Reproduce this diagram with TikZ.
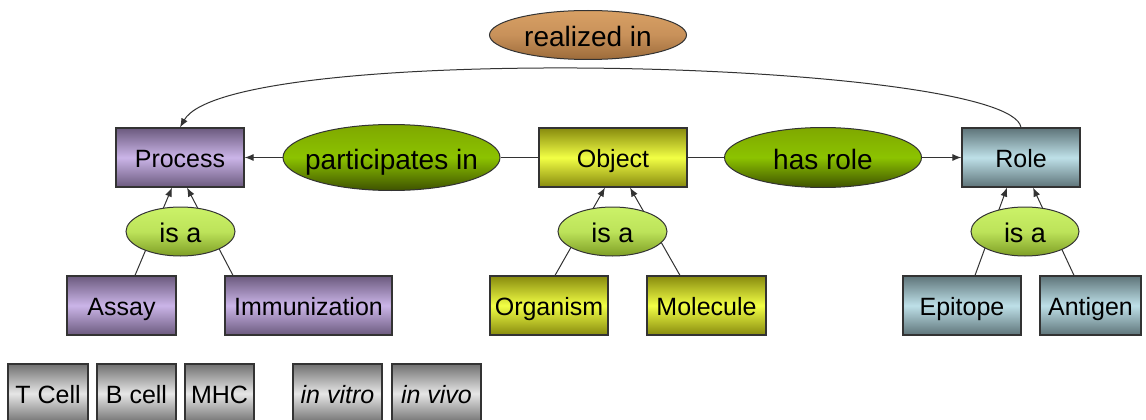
\documentclass[tikz,border=0pt]{standalone}
\usepackage{fontspec}
\setmainfont{Liberation Sans}
\usetikzlibrary{shapes.geometric,arrows.meta,backgrounds}

\definecolor{procdark}{HTML}{6B5A7E}
\definecolor{proclight}{HTML}{CBB5E8}
\definecolor{objdark}{HTML}{878A0E}
\definecolor{objlight}{HTML}{F2FF45}
\definecolor{roledark}{HTML}{5E7479}
\definecolor{rolelight}{HTML}{BEE0E8}
\definecolor{termdark}{HTML}{707070}
\definecolor{termlight}{HTML}{E6E6E6}
\definecolor{reltop}{HTML}{7FA800}
\definecolor{relmid}{HTML}{8CC300}
\definecolor{relbot}{HTML}{3E5200}
\definecolor{isatop}{HTML}{CBF268}
\definecolor{isamid}{HTML}{BDE35A}
\definecolor{isabot}{HTML}{7E9E25}
\definecolor{realtop}{HTML}{D8A064}
\definecolor{realmid}{HTML}{C8915A}
\definecolor{realbot}{HTML}{9C6B3A}
\definecolor{edgegray}{HTML}{333333}

\newcommand{\slim}[1]{\makebox[0pt]{#1}}

\begin{document}
\begin{tikzpicture}[x=1pt, y=-1pt,
    box/.style={rectangle, draw=edgegray, line width=1.2pt, minimum height=59pt,
        inner sep=2pt, text height=21pt, text depth=2pt,
        font=\fontsize{25}{29}\selectfont},
    procbox/.style={box, top color=procdark, bottom color=procdark, middle color=proclight},
    objbox/.style={box, top color=objdark, bottom color=objdark, middle color=objlight},
    rolebox/.style={box, top color=roledark, bottom color=roledark, middle color=rolelight},
    termbox/.style={box, top color=termdark, bottom color=termdark, middle color=termlight},
    rel/.style={ellipse, draw=edgegray, line width=1pt, inner sep=0pt,
        text height=24pt, text depth=0pt, font=\fontsize{28}{32}\selectfont,
        top color=reltop, bottom color=relbot, middle color=relmid},
    isa/.style={ellipse, draw=edgegray, line width=1pt, inner sep=0pt,
        text height=21pt, text depth=0pt,
        minimum width=109pt, minimum height=49pt, font=\fontsize{27}{31}\selectfont,
        top color=isatop, bottom color=isabot, middle color=isamid},
    link/.style={draw=edgegray, line width=1pt},
    arr/.style={link, -{Latex[length=9pt,width=7pt]}}]

    \useasboundingbox (0,0) rectangle (1146,420);
    \clip (0,0) rectangle (1146,420);

    % Classes du haut
    \node[procbox, minimum width=128pt] (process) at (180,157.5) {Process};
    \node[objbox, minimum width=148pt] (object) at (613,157.5) {Object};
    \node[rolebox, minimum width=118pt] (role) at (1021,157.5) {Role};

    % Sous-classes
    \node[procbox, minimum width=109pt] (assay) at (121.5,305.5) {Assay};
    \node[procbox, minimum width=167pt] (immun) at (308.5,305.5) {Immunization};
    \node[objbox, minimum width=118pt] (organism) at (549,305.5) {Organism};
    \node[objbox, minimum width=119pt] (molecule) at (706.5,305.5) {Molecule};
    \node[rolebox, minimum width=118pt] (epitope) at (962,305.5) {Epitope};
    \node[rolebox, minimum width=101pt] (antigen) at (1090.5,305.5) {Antigen};

    % Termes du bas
    \node[termbox, minimum width=80pt] (tcell) at (48,393.5) {T Cell};
    \node[termbox, minimum width=79pt] (bcell) at (136.5,393.5) {B cell};
    \node[termbox, minimum width=69pt] (mhc) at (219.5,393.5) {MHC};
    \node[termbox, minimum width=89pt] (invitro) at (337.5,393.5) {\textit{in vitro}};
    \node[termbox, minimum width=89pt] (invivo) at (436.5,393.5) {\textit{in vivo}};

    % Relations
    \node[rel, top color=realtop, bottom color=realbot, middle color=realmid,
        minimum width=197pt, minimum height=49pt] (realized) at (588,35) {realized in};
    \node[rel, minimum width=217pt, minimum height=66pt] (partic) at (391.5,157.5) {\slim{participates in}};
    \node[rel, minimum width=197pt, minimum height=60pt] (hasrole) at (823,157.5) {has role};

    \node[isa] (isaproc) at (180.5,231.5) {is a};
    \node[isa] (isaobj) at (612.5,231.5) {is a};
    \node[isa, minimum width=108pt] (isarole) at (1025,231.5) {is a};

    % Liens entre classes
    \draw[arr] (partic) -- (process);
    \draw[link] (object) -- (partic);
    \draw[link] (object) -- (hasrole);
    \draw[arr] (hasrole) -- (role);
    \draw[arr] (role.north) .. controls (1010,60) and (230,40) .. (process.north);

    % Liens "is a" (sous les ellipses)
    \begin{pgfonlayer}{background}
        \draw[arr] ([xshift=13.5pt]assay.north) -- ([xshift=-8pt]process.south);
        \draw[arr] ([xshift=-75.5pt]immun.north) -- ([xshift=7pt]process.south);
        \draw[arr] ([xshift=6pt]organism.north) -- ([xshift=-8pt]object.south);
        \draw[arr] ([xshift=-26.5pt]molecule.north) -- ([xshift=17pt]object.south);
        \draw[arr] ([xshift=13pt]epitope.north) -- ([xshift=-14pt]role.south);
        \draw[arr] ([xshift=-16.5pt]antigen.north) -- ([xshift=12pt]role.south);
    \end{pgfonlayer}
\end{tikzpicture}
\end{document}
